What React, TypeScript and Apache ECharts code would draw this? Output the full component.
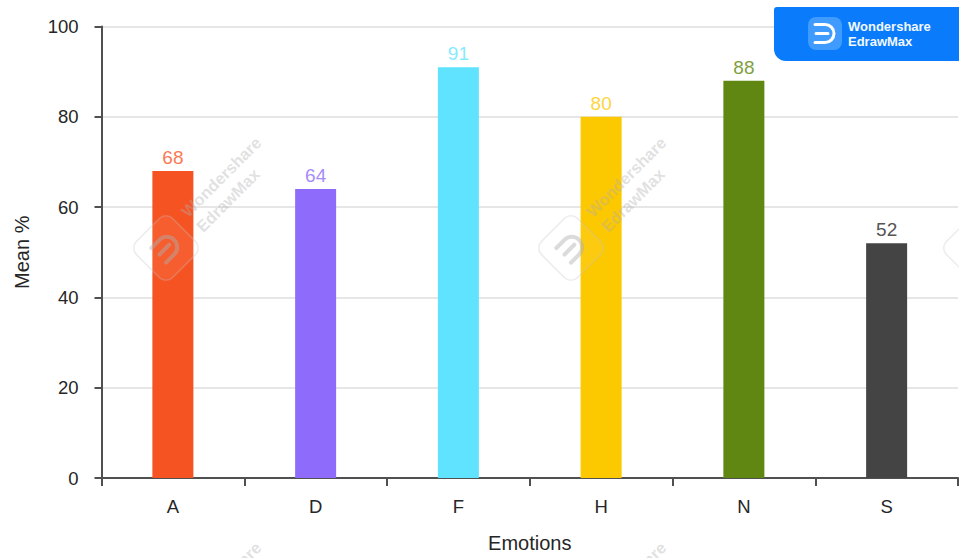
import React, { useEffect, useRef } from "react";
import * as echarts from "echarts";

const categories = ["A", "D", "F", "H", "N", "S"];
const meanValues = [68, 64, 91, 80, 88, 52];
const barColors = ["#F65322", "#8E6BFA", "#5FE3FF", "#FCC800", "#5F8712", "#444444"];
const labelColors = ["#FB7A55", "#A78BFB", "#85EBFF", "#FDD540", "#7F9F3F", "#555555"];
const yTicks = { min: 0, max: 100, interval: 20 };

const FONT = '"Liberation Sans", Arial, sans-serif';
const TEXT_DARK = "#262626";
const AXIS_DARK = "#505050";

echarts.graphic.registerShape(
  "edrawGlyph",
  echarts.graphic.extendPath("M-9 -9 H1 A9 9 0 0 1 1 9 H-9 M-8 0 H4", {})
);

// Rounded diamond with the brand glyph inside.
function stampMark(cx: number, cy: number) {
  return [
    {
      type: "rect",
      x: cx,
      y: cy,
      rotation: Math.PI / 4,
      z: 50,
      shape: { x: -25.5, y: -25.5, width: 51, height: 51, r: 9 },
      style: { fill: "rgba(255,255,255,0.06)", stroke: "rgba(195,195,195,0.32)", lineWidth: 1.5 },
    },
    {
      type: "edrawGlyph",
      x: cx,
      y: cy,
      rotation: Math.PI / 4,
      scaleX: 1.15,
      scaleY: 1.15,
      z: 51,
      style: { fill: "none", stroke: "rgba(175,175,175,0.45)", lineWidth: 3.5, lineCap: "round" },
    },
  ];
}

// A slanted line of stamp text, reading up and to the right.
function stampLine(x: number, y: number, text: string) {
  return {
    type: "text",
    x,
    y,
    rotation: Math.PI / 4,
    z: 51,
    style: {
      text,
      fill: "rgba(175,175,175,0.38)",
      font: `bold 16.5px ${FONT}`,
      textAlign: "left",
      textVerticalAlign: "middle",
    },
  };
}

const stamps = [
  ...stampMark(166, 248),
  stampLine(184, 214, "Wondershare"),
  stampLine(199, 229, "EdrawMax"),
  ...stampMark(571, 248),
  stampLine(589, 214, "Wondershare"),
  stampLine(604, 229, "EdrawMax"),
  ...stampMark(976, 248),
  stampLine(184, 619, "Wondershare"),
  stampLine(589, 619, "Wondershare"),
];

const badge = [
  {
    type: "rect",
    z: 60,
    shape: { x: 774, y: 7, width: 195, height: 54, r: [3, 0, 0, 12] },
    style: { fill: "#0A7CFB" },
  },
  {
    type: "rect",
    z: 61,
    shape: { x: 808, y: 17, width: 34, height: 33, r: 8 },
    style: { fill: "#3F9BFD" },
  },
  {
    type: "edrawGlyph",
    x: 824,
    y: 33.5,
    z: 62,
    style: { fill: "none", stroke: "#FFFFFF", lineWidth: 3, lineCap: "round" },
  },
  {
    type: "text",
    x: 848,
    y: 26,
    z: 62,
    style: { text: "Wondershare", fill: "#F2F8FF", font: `bold 13px ${FONT}`, textVerticalAlign: "middle" },
  },
  {
    type: "text",
    x: 848,
    y: 41,
    z: 62,
    style: { text: "EdrawMax", fill: "#F2F8FF", font: `bold 13px ${FONT}`, textVerticalAlign: "middle" },
  },
];

export default function App() {
  const ref = useRef<HTMLDivElement>(null);

  useEffect(() => {
    const chart = echarts.init(ref.current!, undefined, { renderer: "svg" });
    chart.setOption({
      animation: false,
      backgroundColor: "#FFFFFF",
      grid: { left: 101.5, right: 1, top: 26.5, bottom: 78.5, containLabel: false },
      xAxis: {
        type: "category",
        data: categories,
        name: "Emotions",
        nameLocation: "middle",
        nameGap: 55,
        nameTextStyle: { fontFamily: FONT, fontSize: 20, color: TEXT_DARK },
        axisLine: { show: true, lineStyle: { color: AXIS_DARK, width: 2 } },
        axisTick: { show: true, length: 8, lineStyle: { color: AXIS_DARK, width: 2 }, alignWithLabel: false },
        axisLabel: { fontFamily: FONT, fontSize: 18.5, color: TEXT_DARK, margin: 19 },
        splitLine: { show: false },
      },
      yAxis: {
        type: "value",
        min: yTicks.min,
        max: yTicks.max,
        interval: yTicks.interval,
        name: "Mean %",
        nameLocation: "middle",
        nameGap: 70,
        nameRotate: 90,
        nameTextStyle: { fontFamily: FONT, fontSize: 20, color: TEXT_DARK },
        axisLine: { show: true, lineStyle: { color: AXIS_DARK, width: 2 } },
        axisTick: { show: true, length: 7, lineStyle: { color: AXIS_DARK, width: 2 } },
        axisLabel: { fontFamily: FONT, fontSize: 18.5, color: TEXT_DARK, margin: 23 },
        splitLine: { show: true, lineStyle: { color: "#E6E6E6", width: 2 } },
      },
      series: [
        {
          type: "bar",
          barWidth: 41,
          data: meanValues.map((value, i) => ({
            value,
            itemStyle: { color: barColors[i] },
            label: { color: labelColors[i] },
          })),
          label: {
            show: true,
            position: "top",
            distance: 4,
            fontFamily: FONT,
            fontSize: 19,
          },
        },
      ],
      graphic: { elements: [...stamps, ...badge] },
    });
    return () => chart.dispose();
  }, []);

  return (
    <div
      ref={ref}
      style={{ position: "absolute", left: 0, top: 0, width: 959, height: 558 }}
    />
  );
}
